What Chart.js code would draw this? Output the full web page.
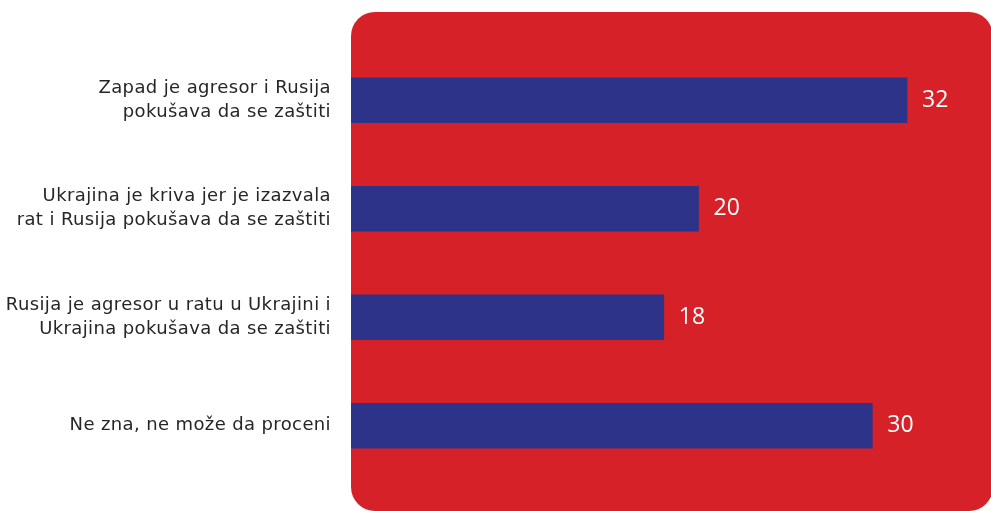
<!DOCTYPE html>
<html>
<head>
<meta charset="utf-8">
<script src="https://cdn.jsdelivr.net/npm/chart.js@4/dist/chart.umd.min.js"></script>
<style>
  html, body { margin: 0; padding: 0; background: #fff; }
  #wrap { width: 991px; height: 511px; }
</style>
</head>
<body>
<div id="wrap"><canvas id="chart"></canvas></div>
<script>
const categories = [
  ["Zapad je agresor i Rusija", "pokušava da se zaštiti"],
  ["Ukrajina je kriva jer je izazvala", "rat i Rusija pokušava da se zaštiti"],
  ["Rusija je agresor u ratu u Ukrajini i", "Ukrajina pokušava da se zaštiti"],
  ["Ne zna, ne može da proceni"]
];
const values = [32, 20, 18, 30];

const RED = "#d62129";
const BLUE = "#2e338a";

// red rounded panel behind the bars, plus a bit of letter spacing for the labels
const panelPlugin = {
  id: "panel",
  beforeDraw(chart) {
    const ctx = chart.ctx;
    const x = chart.chartArea.left, y = 12, w = 993 - x, h = 511 - y, r = 24;
    ctx.save();
    ctx.fillStyle = RED;
    ctx.beginPath();
    ctx.roundRect(x, y, w, h, r);
    ctx.fill();
    ctx.restore();
    ctx.letterSpacing = "0.38px";
  }
};

// white value labels after each bar
const valuePlugin = {
  id: "values",
  afterDatasetsDraw(chart) {
    const ctx = chart.ctx;
    const meta = chart.getDatasetMeta(0);
    ctx.save();
    ctx.letterSpacing = "0px";
    ctx.fillStyle = "#ffffff";
    ctx.font = "23px 'Open Sans', sans-serif";
    ctx.textBaseline = "middle";
    ctx.textAlign = "left";
    meta.data.forEach((bar, i) => {
      ctx.fillText(values[i], bar.x + 15, bar.y);
    });
    ctx.restore();
  }
};

new Chart(document.getElementById("chart"), {
  type: "bar",
  data: {
    labels: categories,
    datasets: [{
      data: values,
      backgroundColor: BLUE,
      borderWidth: 0,
      barThickness: 45
    }]
  },
  options: {
    indexAxis: "y",
    responsive: true,
    maintainAspectRatio: false,
    animation: false,
    layout: { padding: { top: 46, bottom: 31, right: 0, left: 0 } },
    plugins: { legend: { display: false }, tooltip: { enabled: false } },
    scales: {
      x: { display: false, min: 0, max: 36.83 },
      y: {
        grid: { display: false, drawTicks: false },
        border: { display: false },
        afterFit(scale) {
          scale.width = 351;
          scale.paddingTop = 0;
          scale.paddingBottom = 0;
        },
        ticks: {
          color: "#262626",
          padding: 20,
          font: { family: "'DejaVu Sans', sans-serif", size: 18, lineHeight: 1.33 },
          crossAlign: "near"
        }
      }
    }
  },
  plugins: [panelPlugin, valuePlugin]
});
</script>
</body>
</html>
